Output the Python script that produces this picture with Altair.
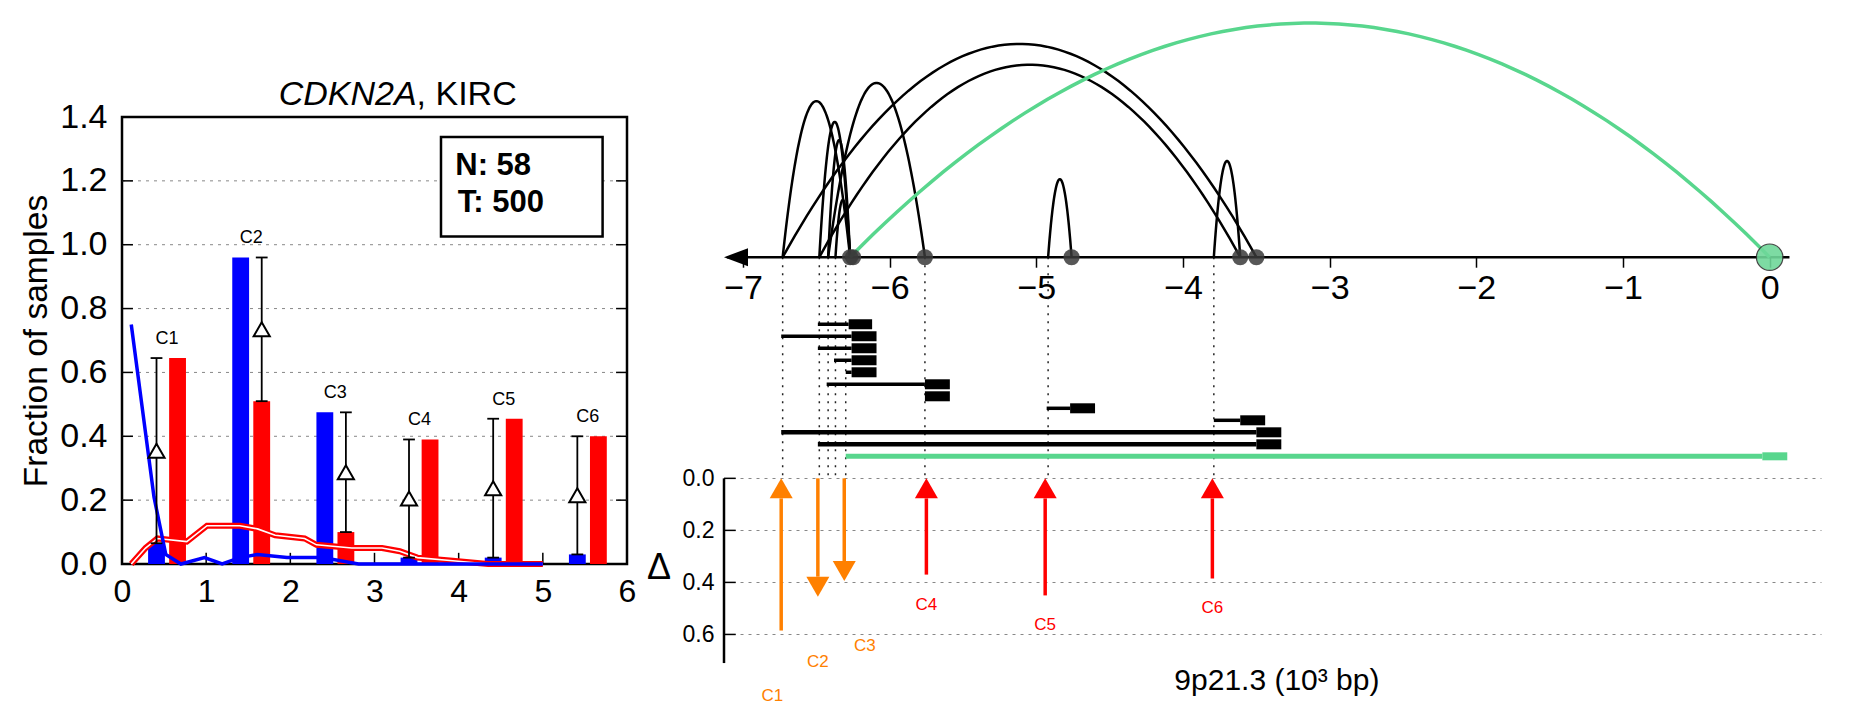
import altair as alt
import numpy as np
import pandas as pd

FONT = "Liberation Sans"
BLUE, RED, ORANGE, GREEN = "#0000ff", "#ff0000", "#ff8000", "#58d68d"

# ------------------------------------------------------------------ left panel values
clusters = ["C1", "C2", "C3", "C4", "C5", "C6"]
cluster_pos = [0.5, 1.5, 2.5, 3.5, 4.5, 5.5]
normal_fraction = [0.065, 0.96, 0.475, 0.02, 0.02, 0.03]
tumor_fraction = [0.645, 0.51, 0.10, 0.39, 0.455, 0.40]

normal_curve_x = [0.11, 0.38, 0.52, 0.70, 0.98, 1.19, 1.40, 1.61, 1.96, 2.38, 2.81, 3.50, 4.20, 5.00]
normal_curve_y = [0.75, 0.21, 0.03, 0.00, 0.02, 0.00, 0.02, 0.03, 0.02, 0.02, 0.00, 0.00, 0.00, 0.00]
tumor_curve_x = [0.11, 0.28, 0.42, 0.77, 1.01, 1.40, 1.61, 1.82, 2.17, 2.31, 2.73, 3.09, 3.30, 3.51, 3.93, 4.35, 5.00]
tumor_curve_y = [0.00, 0.05, 0.08, 0.07, 0.12, 0.12, 0.11, 0.09, 0.08, 0.06, 0.05, 0.05, 0.04, 0.02, 0.01, 0.00, 0.00]

fraction_ticks = [0.0, 0.2, 0.4, 0.6, 0.8, 1.0, 1.2, 1.4]
position_ticks = [0, 1, 2, 3, 4, 5, 6]
count_lines = ["N: 58", "T: 500"]
title_gene, title_rest = "CDKN2A", ", KIRC"

# ------------------------------------------------------------------ right panel values
genome_ticks = [-7, -6, -5, -4, -3, -2, -1, 0]
breakpoints = [-6.73, -6.48, -6.42, -6.37, -6.30, -5.76, -4.92, -3.79]
arc_from = [-6.73, -6.48, -6.42, -6.37, -6.42, -6.73, -6.48, -4.92, -3.79]
arc_to = [-6.27, -6.27, -6.27, -6.27, -5.76, -3.50, -3.61, -4.76, -3.61]
arc_height = [0.60, 0.52, 0.45, 0.22, 0.67, 0.82, 0.74, 0.30, 0.37]
ref_arc = [-6.27, 0.0, 0.90]
junction_ends = [-6.27, -6.25, -5.76, -4.76, -3.61, -3.50]
ref_end = [0.0]

tx_start = [-6.49, -6.74, -6.49, -6.38, -6.30, -6.43, -5.76, -4.93, -3.79, -6.74, -6.49, -6.30]
tx_exon_start = [-6.28, -6.26, -6.26, -6.26, -6.26, -5.76, -5.76, -4.77, -3.61, -3.50, -3.50, -0.05]
tx_exon_end = [-6.12, -6.09, -6.09, -6.09, -6.09, -5.59, -5.59, -4.60, -3.44, -3.33, -3.33, 0.12]
tx_kind = ["alt"] * 11 + ["ref"]

delta_pos = [-6.74, -6.49, -6.31, -5.75, -4.94, -3.80]
delta_value = [0.585, 0.455, 0.395, 0.37, 0.45, 0.385]
delta_dir = ["up", "down", "down", "up", "up", "up"]
delta_kind = ["a", "a", "a", "b", "b", "b"]
delta_ticks = [0.0, 0.2, 0.4, 0.6]
x_title = "9p21.3 (10³ bp)"

# ------------------------------------------------------------------ layout / style
LW, LH = 505, 447
RW, RH = 1097, 653
XL = [0, 6]
YL = [0, 1.4]
XR = [-7.13, 0.35]
YR = [-1.781, 0.729]
AXIS_Y = -0.85
ROW0, ROWSTEP = -0.5923, 0.04615
GROUP_COLOR = {"normal": BLUE, "tumor": RED, "alt": "black", "ref": GREEN, "a": ORANGE, "b": RED}
LABEL_GAP = {"a": 0.25, "b": 0.115}
UP_PATH, DOWN_PATH = "M0,0L0.575,1L-0.575,1Z", "M0,0L0.575,-1L-0.575,-1Z"

# ================================================================== LEFT CHART
xsL = alt.Scale(domain=XL, nice=False, zero=False)
ysL = alt.Scale(domain=YL, nice=False, zero=False)
axLx = alt.Axis(values=position_ticks, format="d", title=None, domain=False, ticks=False, grid=False,
                labelFontSize=32, labelPadding=12, labelFlush=False, labelColor="black", labelFont=FONT)
axLy = alt.Axis(values=fraction_ticks, format=".1f", title="Fraction of samples", titleFontSize=33.5,
                titleFontWeight="normal", titlePadding=6, titleColor="black", titleFont=FONT,
                domain=False, ticks=False, grid=False, labelFontSize=34, labelPadding=15,
                labelFlush=False, labelColor="black", labelFont=FONT)


def LX(f):
    return alt.X(f, type="quantitative", scale=xsL, axis=axLx)


def LY(f):
    return alt.Y(f, type="quantitative", scale=ysL, axis=axLy)


grid_df = pd.DataFrame({"y": fraction_ticks[1:-1], "x0": XL[0], "x1": XL[1]})
gridL = alt.Chart(grid_df).mark_rule(color="#888888", strokeDash=[3, 5], strokeWidth=1).encode(
    x=LX("x0"), x2="x1", y=LY("y"))

tk = []
for v in fraction_ticks[1:-1]:
    tk.append(dict(x0=0, x1=0.13, y0=v, y1=v))
    tk.append(dict(x0=5.87, x1=6, y0=v, y1=v))
for v in position_ticks[1:-1]:
    tk.append(dict(x0=v, x1=v, y0=0, y1=0.035))
ticksL = alt.Chart(pd.DataFrame(tk)).mark_rule(color="black", strokeWidth=1.5).encode(
    x=LX("x0"), x2="x1", y=LY("y0"), y2="y1")

BW, BOFF, ROFF = 0.2, -0.09, 0.16
bars, errs = [], []
for c, p, n, t in zip(clusters, cluster_pos, normal_fraction, tumor_fraction):
    bars.append(dict(x0=p + BOFF - BW / 2, x1=p + BOFF + BW / 2, y0=0, y1=n, col=GROUP_COLOR["normal"]))
    bars.append(dict(x0=p + ROFF - BW / 2, x1=p + ROFF + BW / 2, y0=0, y1=t, col=GROUP_COLOR["tumor"]))
    ex = p + (BOFF if n < t else ROFF)
    errs.append(dict(x=ex, xl=ex - 0.07, xr=ex + 0.07, lo=min(n, t), hi=max(n, t), mid=(n + t) / 2,
                     label=c, lx=p + 0.035, ly=max(n, t) + 0.06))
bars_df = pd.DataFrame(bars)
err_df = pd.DataFrame(errs)

barsL = alt.Chart(bars_df).mark_rect().encode(
    x=LX("x0"), x2="x1", y=LY("y1"), y2="y0", color=alt.Color("col:N", scale=None))

ncurve = pd.DataFrame({"x": normal_curve_x, "y": normal_curve_y})
tcurve = pd.DataFrame({"x": tumor_curve_x, "y": tumor_curve_y})
blue_line = alt.Chart(ncurve).mark_line(color=BLUE, strokeWidth=3.5).encode(x=LX("x"), y=LY("y"))
red_line = alt.Chart(tcurve).mark_line(color=RED, strokeWidth=6).encode(x=LX("x"), y=LY("y"))
red_core = alt.Chart(tcurve).mark_line(color="white", strokeWidth=1.6).encode(x=LX("x"), y=LY("y"))

err_line = alt.Chart(err_df).mark_rule(color="black", strokeWidth=1.8).encode(x=LX("x"), y=LY("lo"), y2="hi")
cap_lo = alt.Chart(err_df).mark_rule(color="black", strokeWidth=1.8).encode(x=LX("xl"), x2="xr", y=LY("lo"))
cap_hi = alt.Chart(err_df).mark_rule(color="black", strokeWidth=1.8).encode(x=LX("xl"), x2="xr", y=LY("hi"))
tri = alt.Chart(err_df).mark_point(shape="triangle-up", filled=True, fill="white", stroke="black",
                                   strokeWidth=2, size=260, opacity=1).encode(x=LX("x"), y=LY("mid"))
clabL = alt.Chart(err_df).mark_text(fontSize=18, font=FONT, baseline="middle", color="black").encode(
    x=LX("lx"), y=LY("ly"), text="label")

box_df = pd.DataFrame({"x0": [3.79], "x1": [5.71], "y0": [1.026], "y1": [1.337]})
boxL = alt.Chart(box_df).mark_rect(fill="white", stroke="black", strokeWidth=2.5).encode(
    x=LX("x0"), x2="x1", y=LY("y0"), y2="y1")
cnt_df = pd.DataFrame({"t": count_lines, "x": [3.96, 3.99], "y": [1.245, 1.13]})
cntL = alt.Chart(cnt_df).mark_text(fontSize=31, font=FONT, fontWeight="bold", align="left",
                                   baseline="middle", color="black").encode(x=LX("x"), y=LY("y"), text="t")

ttl_df = pd.DataFrame({"t": [title_gene], "x": [3.50], "y": [1.522]})
ttl2_df = pd.DataFrame({"t": [title_rest], "x": [3.50], "y": [1.522]})
ttl1 = alt.Chart(ttl_df).mark_text(fontSize=34, font=FONT, fontStyle="italic", align="right",
                                   baseline="top", color="black").encode(x=LX("x"), y=LY("y"), text="t")
ttl2 = alt.Chart(ttl2_df).mark_text(fontSize=34, font=FONT, align="left",
                                    baseline="top", color="black").encode(x=LX("x"), y=LY("y"), text="t")

left = alt.layer(gridL, ticksL, barsL, red_line, red_core, blue_line, err_line, cap_lo, cap_hi, tri,
                 clabL, boxL, cntL, ttl1, ttl2).properties(
    width=LW, height=LH, view=alt.ViewBackground(stroke="black", strokeWidth=2.5))

spacer = alt.Chart(pd.DataFrame({"v": [0]})).mark_point(opacity=0).encode(
    x=alt.value(50), y=alt.value(30)).properties(width=LW, height=59,
                                                 view=alt.ViewBackground(stroke="transparent"))

# ================================================================== RIGHT CHART
axis_px = (AXIS_Y - YR[0]) / (YR[1] - YR[0]) * RH
xsR = alt.Scale(domain=XR, nice=False, zero=False)
ysR = alt.Scale(domain=YR, nice=False, zero=False, reverse=True)
axRx = alt.Axis(values=genome_ticks, format="d", orient="bottom", offset=axis_px - RH, title=None,
                domain=False, ticks=True, tickSize=10, tickWidth=1.5, tickColor="black", grid=False,
                labelFontSize=34, labelPadding=4, labelFlush=False, labelColor="black", labelFont=FONT)
axRy = alt.Axis(values=delta_ticks, format=".1f", title=None, domain=False, ticks=False, grid=True,
                gridDash=[3, 5], gridColor="#888888", gridWidth=1, labelFontSize=23, labelPadding=10,
                labelFlush=False, labelColor="black", labelFont=FONT)


def RX(f):
    return alt.X(f, type="quantitative", scale=xsR, axis=axRx)


def RY(f):
    return alt.Y(f, type="quantitative", scale=ysR, axis=axRy)


dax = alt.Chart(pd.DataFrame({"x": [XR[0]], "y0": [0.0], "y1": [0.71]})).mark_rule(
    color="black", strokeWidth=2.5).encode(x=RX("x"), y=RY("y0"), y2="y1")
dtk = alt.Chart(pd.DataFrame({"y": delta_ticks, "x0": XR[0], "x1": XR[0] + 0.08})).mark_rule(
    color="black", strokeWidth=1.5).encode(x=RX("x0"), x2="x1", y=RY("y"))
dsym = alt.Chart(pd.DataFrame({"x": [XR[0]], "y": [0.345], "t": ["Δ"]})).mark_text(
    fontSize=36, font=FONT, dx=-65, align="center", baseline="middle", color="black").encode(
    x=RX("x"), y=RY("y"), text="t")
xttl = alt.Chart(pd.DataFrame({"x": [-3.36], "y": [0.78], "t": [x_title]})).mark_text(
    fontSize=30, font=FONT, align="center", baseline="middle", color="black").encode(
    x=RX("x"), y=RY("y"), text="t")

dots = alt.Chart(pd.DataFrame({"x": breakpoints, "y0": AXIS_Y, "y1": 0.0})).mark_rule(
    color="#222222", strokeWidth=1.5, strokeDash=[2, 6]).encode(x=RX("x"), y=RY("y0"), y2="y1")

rows = []
for i, (s, es, ee, k) in enumerate(zip(tx_start, tx_exon_start, tx_exon_end, tx_kind)):
    y = ROW0 + i * ROWSTEP
    lw = 5 if k == "ref" else (4.5 if i in (9, 10) else 3.5)
    bw = 8 if k == "ref" else 10
    rows.append(dict(s=s, es=es, ee=ee, y=y, col=GROUP_COLOR[k], lw=lw, bw=bw))
rows_df = pd.DataFrame(rows)
tx_lines = alt.Chart(rows_df[rows_df.s < rows_df.es]).mark_rule().encode(
    x=RX("s"), x2="es", y=RY("y"), color=alt.Color("col:N", scale=None),
    strokeWidth=alt.StrokeWidth("lw:Q", scale=None))
tx_boxes = alt.Chart(rows_df).mark_rule().encode(
    x=RX("es"), x2="ee", y=RY("y"), color=alt.Color("col:N", scale=None),
    strokeWidth=alt.StrokeWidth("bw:Q", scale=None))

gline = alt.Chart(pd.DataFrame({"x0": [-7.11], "x1": [0.135], "y": [AXIS_Y]})).mark_rule(
    color="black", strokeWidth=2.5).encode(x=RX("x0"), x2="x1", y=RY("y"))
ghead = alt.Chart(pd.DataFrame({"x": [XR[0]], "y": [AXIS_Y]})).mark_point(
    shape="M0,0L1,-0.375L1,0.375Z", filled=True, color="black", opacity=1, size=2304).encode(
    x=RX("x"), y=RY("y"))

t = np.linspace(0, 1, 80)
arc_rows = []
for j, (a, b, h) in enumerate(zip(arc_from, arc_to, arc_height)):
    for tt in t:
        arc_rows.append(dict(id=j, o=tt, x=a + (b - a) * tt, y=AXIS_Y - 4 * h * tt * (1 - tt)))
arcs = alt.Chart(pd.DataFrame(arc_rows)).mark_line(color="black", strokeWidth=2.5).encode(
    x=RX("x"), y=RY("y"), detail="id:N", order="o:Q")
ref_rows = [dict(o=tt, x=ref_arc[0] + (ref_arc[1] - ref_arc[0]) * tt,
                 y=AXIS_Y - 4 * ref_arc[2] * tt * (1 - tt)) for tt in t]
ref_arc_ch = alt.Chart(pd.DataFrame(ref_rows)).mark_line(color=GREEN, strokeWidth=3.5).encode(
    x=RX("x"), y=RY("y"), order="o:Q")

ends = alt.Chart(pd.DataFrame({"x": junction_ends, "y": AXIS_Y})).mark_circle(
    color="#3a3a3a", opacity=0.85, size=260).encode(x=RX("x"), y=RY("y"))
ref_dot = alt.Chart(pd.DataFrame({"x": ref_end, "y": AXIS_Y})).mark_point(
    shape="circle", filled=True, fill="#6fd89a", stroke="#333333", strokeWidth=1.2, opacity=0.9,
    size=700).encode(x=RX("x"), y=RY("y"))

HEAD = 0.077
shafts, heads, labs = [], [], []
nudge = [-0.06, 0.0, 0.14, 0.0, 0.0, 0.0]
for c, x, v, d, k, nx in zip(clusters, delta_pos, delta_value, delta_dir, delta_kind, nudge):
    col = GROUP_COLOR[k]
    if d == "up":
        shafts.append(dict(x=x, y0=HEAD, y1=v, col=col))
        heads.append(dict(x=x, y=0.0, shp=UP_PATH, col=col))
    else:
        shafts.append(dict(x=x, y0=0.0, y1=v - HEAD, col=col))
        heads.append(dict(x=x, y=v, shp=DOWN_PATH, col=col))
    labs.append(dict(x=x + nx, y=v + LABEL_GAP[k], t=c, col=col))
shaft_ch = alt.Chart(pd.DataFrame(shafts)).mark_rule(strokeWidth=3.5).encode(
    x=RX("x"), y=RY("y0"), y2="y1", color=alt.Color("col:N", scale=None))
head_ch = alt.Chart(pd.DataFrame(heads)).mark_point(filled=True, opacity=1, size=1600).encode(
    x=RX("x"), y=RY("y"), color=alt.Color("col:N", scale=None),
    shape=alt.Shape("shp:N", scale=None))
lab_ch = alt.Chart(pd.DataFrame(labs)).mark_text(fontSize=17, font=FONT, baseline="middle").encode(
    x=RX("x"), y=RY("y"), text="t", color=alt.Color("col:N", scale=None))

right = alt.layer(dax, dtk, dsym, xttl, dots, tx_lines, tx_boxes, gline, ghead, arcs, ref_arc_ch, ends,
                  ref_dot, shaft_ch, head_ch, lab_ch).properties(
    width=RW, height=RH, view=alt.ViewBackground(stroke="transparent"))

chart = alt.hconcat(alt.vconcat(spacer, left, spacing=0), right, spacing=7).properties(
    padding={"left": 10, "top": 5, "right": 5, "bottom": 5}
).configure(font=FONT).configure_view(strokeWidth=2.5)

chart.save("out.html", embed_options={"renderer": "svg", "actions": False})
